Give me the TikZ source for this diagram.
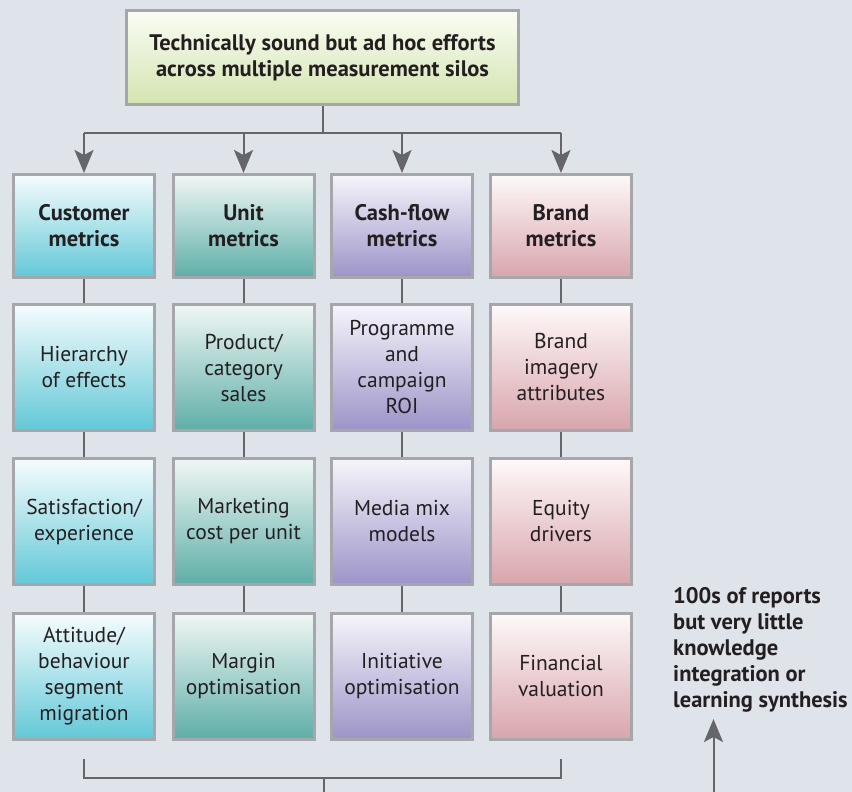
\documentclass[tikz,border=0pt]{standalone}
\usepackage{fontspec}
\setmainfont{PT Sans}
\usetikzlibrary{arrows.meta}
\definecolor{bg}{HTML}{DFE3EA}
\definecolor{bordercol}{HTML}{A5A7AB}
\definecolor{linecol}{HTML}{65666B}
\definecolor{textcol}{HTML}{231F20}
\definecolor{custtop}{HTML}{F6FCFD}
\definecolor{custbot}{HTML}{62C8D7}
\definecolor{unittop}{HTML}{F0F7F5}
\definecolor{unitbot}{HTML}{5EAEA7}
\definecolor{cashtop}{HTML}{F6F5FB}
\definecolor{cashbot}{HTML}{9C94C8}
\definecolor{brandtop}{HTML}{FEF9F9}
\definecolor{brandbot}{HTML}{D8A5AC}
\definecolor{toptop}{HTML}{FAFDF4}
\definecolor{topbot}{HTML}{D3E4B0}
\newcommand{\regfont}{\fontsize{21.5}{26}\selectfont}
\newcommand{\boldfont}{\fontsize{22.5}{26}\selectfont\bfseries}
\begin{document}
\begin{tikzpicture}[x=1pt,y=-1pt,
  box/.style={draw=bordercol, line width=3pt, minimum width=141pt, minimum height=126pt,
    align=center, inner sep=0pt, text=textcol, font=\regfont},
  headbox/.style={box, minimum height=103pt, font=\boldfont},
  cust/.style={top color=custtop, bottom color=custbot},
  unit/.style={top color=unittop, bottom color=unitbot},
  cash/.style={top color=cashtop, bottom color=cashbot},
  brand/.style={top color=brandtop, bottom color=brandbot},
  conn/.style={draw=linecol, line width=2pt},
  arr/.style={conn, -{Stealth[length=23pt, width=19pt, inset=5pt]}}
]
\useasboundingbox[fill=bg] (0,0) rectangle (852,792);

% top box
\node[box, top color=toptop, bottom color=topbot, minimum width=392pt, minimum height=94pt,
  font=\boldfont] (top) at (322.5,57.5)
  {Technically sound but ad hoc efforts\\across multiple measurement silos};

% header row
\node[headbox, cust]  (c1r1) at (84,226)    {Customer\\metrics};
\node[headbox, unit]  (c2r1) at (243.5,226) {Unit\\metrics};
\node[headbox, cash]  (c3r1) at (402,226)   {Cash-flow\\metrics};
\node[headbox, brand] (c4r1) at (561,226)   {Brand\\metrics};

% row 2
\node[box, cust]  (c1r2) at (84,367.5)    {Hierarchy\\of effects};
\node[box, unit]  (c2r2) at (243.5,367.5) {Product/\\category\\sales};
\node[box, cash]  (c3r2) at (402,367.5)   {Programme\\and\\campaign\\ROI};
\node[box, brand] (c4r2) at (561,367.5)   {Brand\\imagery\\attributes};

% row 3
\node[box, cust]  (c1r3) at (84,521.5)    {Satisfaction/\\experience};
\node[box, unit]  (c2r3) at (243.5,521.5) {Marketing\\cost per unit};
\node[box, cash]  (c3r3) at (402,521.5)   {Media mix\\models};
\node[box, brand] (c4r3) at (561,521.5)   {Equity\\drivers};

% row 4
\node[box, cust]  (c1r4) at (84,676.5)    {Attitude/\\behaviour\\segment\\migration};
\node[box, unit]  (c2r4) at (243.5,676.5) {Margin\\optimisation};
\node[box, cash]  (c3r4) at (402,676.5)   {Initiative\\optimisation};
\node[box, brand] (c4r4) at (561,676.5)   {Financial\\valuation};

% note
\node[anchor=north west, align=left, inner sep=0pt, text=textcol,
  font=\boldfont] (note) at (673,587)
  {100s of reports\\but very little\\knowledge\\integration or\\learning synthesis};

% split connector
\coordinate (split) at (322.5,133);
\coordinate (a1) at (84,133);
\coordinate (a2) at (243.5,133);
\coordinate (a3) at (402,133);
\coordinate (a4) at (561,133);
\draw[conn] (top.south) -- (split);
\draw[conn] (a1) -- (a4);
\draw[arr] (a1) -- (c1r1.north);
\draw[arr] (a2) -- (c2r1.north);
\draw[arr] (a3) -- (c3r1.north);
\draw[arr] (a4) -- (c4r1.north);

% vertical links
\foreach \c in {1,2,3,4}{
  \draw[conn] (c\c r1.south) -- (c\c r2.north);
  \draw[conn] (c\c r2.south) -- (c\c r3.north);
  \draw[conn] (c\c r3.south) -- (c\c r4.north);
}

% bottom bracket
\coordinate (b1) at (84,759);
\coordinate (b1b) at (84,778);
\coordinate (b4) at (561,759);
\coordinate (b4b) at (561,778);
\coordinate (bm) at (324,778);
\coordinate (bend) at (324,792);
\draw[conn] (b1) -- (b1b) -- (b4b) -- (b4);
\draw[conn] (bm) -- (bend);

% up arrow
\coordinate (up0) at (713.5,792);
\coordinate (uptip) at (713.5,719);
\draw[arr] (up0) -- (uptip);
\end{tikzpicture}
\end{document}
